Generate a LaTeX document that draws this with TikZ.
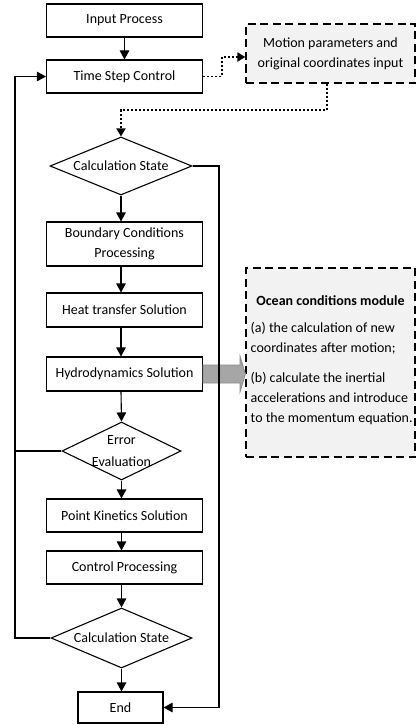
\documentclass[tikz,border=0pt]{standalone}
\usepackage{fontspec}
\setmainfont{Carlito}
\usetikzlibrary{shapes.geometric,arrows.meta}
\definecolor{boxgray}{HTML}{F2F2F2}
\definecolor{arrgray}{HTML}{A6A6A6}
\definecolor{arrborder}{HTML}{8C8C8C}
\tikzset{
  procbox/.style={draw, line width=1.1pt, minimum width=156pt, inner sep=0pt, align=center, font=\fontsize{14}{20}\selectfont},
  decbox/.style={draw, diamond, line width=1.1pt, inner sep=0pt, aspect=2.4},
  dectext/.style={align=center, font=\fontsize{14}{22}\selectfont, inner sep=0pt},
  modbox/.style={draw, fill=boxgray, line width=1.2pt, dash pattern=on 8pt off 4.5pt},
  flow/.style={line width=1.1pt, -{Triangle[length=9pt,width=9.5pt]}},
  plain/.style={line width=1.1pt},
  dotflow/.style={line width=1.8pt, dash pattern=on 2pt off 2pt, -{Triangle[length=8pt,width=9pt]}},
}
\begin{document}
\begin{tikzpicture}[x=1pt,y=-1pt]
\useasboundingbox (0,0) rectangle (416,725);

% main process boxes
\node[procbox, minimum height=33pt] (inp) at (124.5,20.5) {Input Process};
\node[procbox, minimum height=33pt] (tsc) at (124.5,76.5) {Time Step Control};
\node[decbox, minimum width=142pt, minimum height=58pt] (cs1) at (121,166) {};
\node[dectext] at (cs1) {Calculation State};
\node[procbox, minimum height=44pt] (bcp) at (124.5,244) {Boundary Conditions\\Processing};
\node[procbox, minimum height=34pt] (hts) at (124.5,310) {Heat transfer Solution};
\node[procbox, minimum height=34pt] (hyd) at (124.5,374) {Hydrodynamics Solution};
\node[decbox, minimum width=119pt, minimum height=58pt] (err) at (121.5,451) {};
\node[dectext] at (err) {Error\\Evaluation};
\node[procbox, minimum height=33pt] (pks) at (124.5,515.5) {Point Kinetics Solution};
\node[procbox, minimum height=33pt] (ctl) at (124.5,567.5) {Control Processing};
\node[decbox, minimum width=141pt, minimum height=60pt] (cs2) at (121.5,638) {};
\node[dectext] at (cs2) {Calculation State};
\node[procbox, minimum width=85pt, minimum height=31pt] (end) at (120.5,707.5) {End};

% side modules
\node[modbox, minimum width=169pt, minimum height=59pt, align=center, inner sep=0pt,
      font=\fontsize{14}{20}\selectfont] (mot) at (330.5,53.5)
      {Motion parameters and\\original coordinates input};
\node[modbox, minimum width=169pt, minimum height=189pt, inner sep=0pt] (oce) at (330.5,362.5) {};
\node[font=\bfseries\fontsize{14}{16}\selectfont, inner sep=0pt] (oct) at (330.5,301) {Ocean conditions module};
\node[anchor=north west, align=left, inner sep=0pt, font=\fontsize{14}{20}\selectfont] (oca) at (250.5,322)
      {(a) the calculation of new\\coordinates after motion;};
\node[anchor=north west, align=left, inner sep=0pt, font=\fontsize{14}{20}\selectfont] (ocb) at (250.5,372)
      {(b) calculate the inertial\\accelerations and introduce\\to the momentum equation.};

% gray arrow to ocean module
\draw[fill=arrgray, draw=arrborder, line width=0.8pt]
  (hyd.east |- 0,365) -- (240,365) -- (240,356) -- (oce.west |- 0,374) -- (240,392) -- (240,383) -- (hyd.east |- 0,383) -- cycle;

% main flow
\draw[flow] (inp) -- (tsc);
\draw[flow] (cs1.south) -- (cs1.south |- bcp.north);
\draw[flow] (bcp.south -| cs1.south) -- (cs1.south |- hts.north);
\draw[flow] (hts.south -| cs1.south) -- (cs1.south |- hyd.north);
\draw[flow] (hyd.south -| cs1.south) -- (err.north);
\draw[flow] (err.south) -- (err.south |- pks.north);
\draw[flow] (pks.south -| err.south) -- (err.south |- ctl.north);
\draw[flow] (ctl.south -| err.south) -- (cs2.north);
\draw[flow] (cs2.south) -- (cs2.south |- end.north);

% loops
\coordinate (rt) at (219,166);
\coordinate (rb) at (219,707.5);
\draw[flow] (cs1.east) -- (rt) -- (rb) -- (end.east);
\coordinate (lb) at (15,638);
\coordinate (lt) at (15,76.5);
\draw[flow] (cs2.west) -- (lb) -- (lt) -- (tsc.west);
\coordinate (le) at (15,451);
\draw[plain] (err.west) -- (le);

% dotted connections
\coordinate (d1) at (222,76.5);
\coordinate (d2) at (222,57);
\draw[dotflow] (tsc.east) -- (d1) -- (d2) -- (mot.west |- d2);
\coordinate (d3) at (327,110);
\coordinate (d4) at (121,110);
\draw[dotflow] (mot.south -| d3) -- (d3) -- (d4) -- (cs1.north);
\end{tikzpicture}
\end{document}
